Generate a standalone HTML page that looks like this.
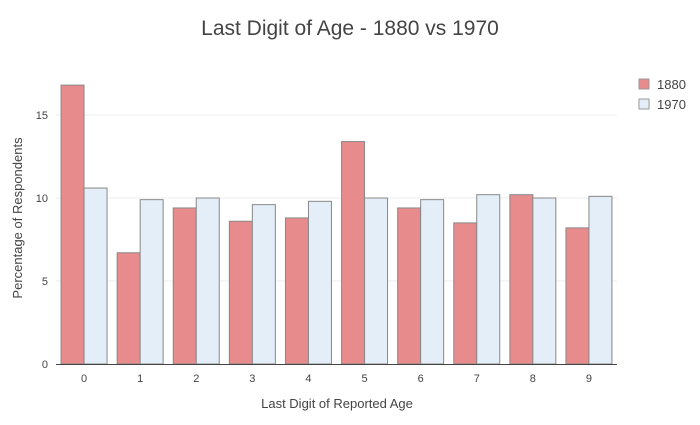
<!DOCTYPE html>
<html><head><meta charset="utf-8"><style>
body{margin:0;background:#fff;font-family:"Liberation Sans",sans-serif}
svg text{font-family:"Liberation Sans",sans-serif}
</style></head><body>
<svg id="chart" width="700" height="420" xmlns="http://www.w3.org/2000/svg">
<rect width="700" height="420" fill="#fff"/>
<text x="350" y="35" text-anchor="middle" font-size="21" fill="#444">Last Digit of Age - 1880 vs 1970</text>
<g id="grid"></g><g id="bars"></g><g id="axes"></g>
<text x="337" y="408" text-anchor="middle" font-size="13" fill="#444">Last Digit of Reported Age</text>
<text transform="translate(22,218) rotate(-90)" text-anchor="middle" font-size="13" fill="#444">Percentage of Respondents</text>
<g>
<g><rect x="639" y="79" width="10" height="10" fill="#e88b8c" stroke="#999"/><text x="657" y="89" font-size="13" fill="#444">1880</text></g>
<g><rect x="639" y="99" width="10" height="10" fill="#e3eef8" stroke="#999"/><text x="657" y="109" font-size="13" fill="#444">1970</text></g>
</g>
</svg>
<script>
const categories=["0","1","2","3","4","5","6","7","8","9"];
const values1880=[16.8,6.7,9.4,8.6,8.8,13.4,9.4,8.5,10.2,8.2];
const values1970=[10.6,9.9,10.0,9.6,9.8,10.0,9.9,10.2,10.0,10.1];
const yTicks=[0,5,10,15];
const NS="http://www.w3.org/2000/svg";
const x0=56,x1=617,yBase=364,pxPerUnit=16.6;
const band=(x1-x0)/categories.length;
const xC=i=>x0+band*(i+0.5);
const y=v=>yBase-v*pxPerUnit;
function mk(t,a,p){const e=document.createElementNS(NS,t);for(const k in a)e.setAttribute(k,a[k]);p.appendChild(e);return e;}
const grid=document.getElementById('grid'),bars=document.getElementById('bars'),axes=document.getElementById('axes');
yTicks.forEach(t=>{
  if(t>0){const l=mk('line',{x1:x0,x2:x1,y1:y(t),y2:y(t),stroke:'#eee'},grid);
  
  }
  const tx=mk('text',{x:48,y:y(t)+4,'text-anchor':'end','font-size':11,fill:'#444'},axes);tx.textContent=t;
  
  
});
const bw=23;
categories.forEach((c,i)=>{
  const cx=xC(i);
  const a=mk('rect',{x:cx-bw,y:y(values1880[i]),width:bw,height:values1880[i]*pxPerUnit,fill:'#e88b8c',stroke:'#888','stroke-width':1},bars);
  
  
  const b=mk('rect',{x:cx,y:y(values1970[i]),width:bw,height:values1970[i]*pxPerUnit,fill:'#e3eef8',stroke:'#888','stroke-width':1},bars);
  
  
  const tx=mk('text',{x:cx,y:382,'text-anchor':'middle','font-size':11,fill:'#444'},axes);tx.textContent=c;
  
  
});
const ax=mk('line',{x1:x0,x2:x1,y1:yBase+0.5,y2:yBase+0.5,stroke:'#444'},axes);


</script>
</body></html>
